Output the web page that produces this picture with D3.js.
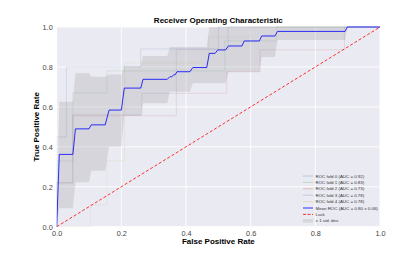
<!DOCTYPE html>
<html>
<head>
<meta charset="utf-8">
<script src="https://cdn.jsdelivr.net/npm/d3@7"></script>
<style>
  body { margin: 0; background: #fff; }
  text { font-family: "Liberation Sans", Arial, sans-serif; }
</style>
</head>
<body>
<svg width="400" height="267"></svg>
<script>
// fold curves (fpr, tpr)
var fold0 = [[0,0],[0,0.45],[0.03,0.45],[0.03,0.8],[0.26,0.8],[0.26,0.89],[0.5,0.89],[0.5,1],[1,1]];
var fold1 = [[0,0],[0,0.33],[0.05,0.33],[0.05,0.67],[0.155,0.67],[0.155,0.78],[0.52,0.78],[0.52,0.93],[0.68,0.93],[0.68,1],[1,1]];
var fold2 = [[0,0],[0,0.22],[0.05,0.22],[0.05,0.556],[0.37,0.556],[0.37,0.668],[0.526,0.668],[0.526,0.776],[0.629,0.776],[0.629,0.886],[0.89,0.886],[0.89,1],[1,1]];
var fold3 = [[0,0],[0,0.22],[0.05,0.22],[0.05,0.56],[0.263,0.56],[0.263,0.668],[0.37,0.668],[0.37,0.888],[0.53,0.888],[0.53,1],[1,1]];
var fold4 = [[0,0],[0.105,0],[0.105,0.11],[0.155,0.11],[0.155,0.33],[0.21,0.33],[0.21,0.82],[0.47,0.82],[0.47,0.95],[0.6,0.95],[0.6,1],[1,1]];
var foldAuc = [0.92, 0.83, 0.73, 0.78, 0.78];

var meanRoc = [[0,0],[0.008,0.362],[0.05,0.362],[0.058,0.49],[0.10,0.49],[0.107,0.51],[0.15,0.51],
  [0.162,0.584],[0.20,0.584],[0.209,0.694],[0.26,0.694],[0.267,0.738],[0.342,0.738],[0.35,0.751],
  [0.356,0.751],[0.362,0.76],[0.366,0.76],[0.372,0.776],[0.412,0.776],[0.421,0.797],[0.464,0.797],
  [0.472,0.868],[0.49,0.868],[0.498,0.885],[0.522,0.885],[0.531,0.905],[0.573,0.905],[0.58,0.93],
  [0.627,0.93],[0.634,0.955],[0.675,0.955],[0.683,0.978],[0.892,0.978],[0.899,1],[1,1]];

var stdUpper = [[0,0],[0.008,0.626],[0.05,0.626],[0.058,0.768],[0.10,0.768],[0.107,0.751],[0.15,0.751],
  [0.162,0.762],[0.20,0.762],[0.209,0.805],[0.26,0.805],[0.267,0.855],[0.342,0.855],[0.35,0.90],
  [0.464,0.90],[0.472,1],[1,1]];
var stdLower = [[0,0],[0.008,0.092],[0.05,0.092],[0.058,0.222],[0.10,0.222],[0.107,0.28],[0.15,0.28],
  [0.162,0.40],[0.20,0.40],[0.209,0.555],[0.26,0.555],[0.267,0.618],[0.342,0.618],[0.35,0.676],
  [0.412,0.676],[0.421,0.718],[0.522,0.718],[0.531,0.776],[0.627,0.776],[0.634,0.85],[0.675,0.85],
  [0.683,0.935],[0.892,0.935],[0.899,1],[1,1]];

var ticks = [0, 0.2, 0.4, 0.6, 0.8, 1.0];
var foldColors = ["#4C72B0", "#55A868", "#C44E52", "#8172B2", "#CCB974"];

function main() {
  var svg = d3.select("svg");
  var pLeft = 56.7, pRight = 380, pTop = 27, pBottom = 226.7;

  var x = d3.scaleLinear().domain([0, 1]).range([pLeft, pRight]);
  var y = d3.scaleLinear().domain([0, 1]).range([pBottom, pTop]);

  svg.append("rect")
    .attr("x", pLeft).attr("y", pTop)
    .attr("width", pRight - pLeft).attr("height", pBottom - pTop)
    .attr("fill", "#EAEAF2");

  // grid
  svg.append("g").selectAll("line").data(ticks).enter().append("line")
    .attr("x1", function(d) { return x(d); }).attr("x2", function(d) { return x(d); })
    .attr("y1", pTop).attr("y2", pBottom)
    .attr("stroke", "#fff").attr("stroke-width", 0.9);
  svg.append("g").selectAll("line").data(ticks).enter().append("line")
    .attr("y1", function(d) { return y(d); }).attr("y2", function(d) { return y(d); })
    .attr("x1", pLeft).attr("x2", pRight)
    .attr("stroke", "#fff").attr("stroke-width", 0.9);

  var line = d3.line().x(function(d) { return x(d[0]); }).y(function(d) { return y(d[1]); });

  svg.append("clipPath").attr("id", "clip").append("rect")
    .attr("x", pLeft).attr("y", pTop - 1).attr("width", pRight - pLeft).attr("height", pBottom - pTop + 2);
  var plot = svg.append("g").attr("clip-path", "url(#clip)");

  [fold0, fold1, fold2, fold3, fold4].forEach(function(f, i) {
    plot.append("path").attr("d", line(f))
      .attr("fill", "none").attr("stroke", foldColors[i])
      .attr("stroke-opacity", 0.25).attr("stroke-width", 0.6);
  });

  // std band between upper and lower outlines
  var band = stdUpper.concat(stdLower.slice().reverse());
  plot.append("path").attr("d", line(band) + "Z")
    .attr("fill", "#808080").attr("fill-opacity", 0.2).attr("stroke", "none");

  plot.append("path").attr("d", line([[0, 0], [1, 1]]))
    .attr("fill", "none").attr("stroke", "red").attr("stroke-opacity", 0.8)
    .attr("stroke-width", 1).attr("stroke-dasharray", "3,2");

  plot.append("path").attr("d", line(meanRoc))
    .attr("fill", "none").attr("stroke", "blue").attr("stroke-opacity", 0.8)
    .attr("stroke-width", 1);

  // axes
  var xAxis = d3.axisBottom(x).tickValues(ticks).tickSize(0).tickPadding(4).tickFormat(d3.format(".1f"));
  var yAxis = d3.axisLeft(y).tickValues(ticks).tickSize(0).tickPadding(4).tickFormat(d3.format(".1f"));
  var gx = svg.append("g").attr("transform", "translate(0," + pBottom + ")").call(xAxis);
  var gy = svg.append("g").attr("transform", "translate(" + pLeft + ",0)").call(yAxis);
  [gx, gy].forEach(function(g) {
    g.select(".domain").remove();
    g.selectAll("text").attr("font-size", 7.3).attr("fill", "#444")
      .style("font-family", "'Liberation Sans', Arial, sans-serif");
  });

  svg.append("text").attr("x", (pLeft + pRight) / 2).attr("y", 23)
    .attr("text-anchor", "middle").attr("font-size", 8).attr("font-weight", "bold")
    .text("Receiver Operating Characteristic");
  svg.append("text").attr("x", (pLeft + pRight) / 2).attr("y", 244)
    .attr("text-anchor", "middle").attr("font-size", 8).attr("font-weight", "bold")
    .text("False Positive Rate");
  svg.append("text")
    .attr("transform", "translate(39," + (pTop + pBottom) / 2 + ") rotate(-90)")
    .attr("text-anchor", "middle").attr("font-size", 8).attr("font-weight", "bold")
    .text("True Positive Rate");

  // legend
  var legendItems = foldAuc.map(function(a, i) {
    return { label: "ROC fold " + i + " (AUC = " + a.toFixed(2) + ")", type: "line", color: foldColors[i], op: 0.3 };
  });
  legendItems.push({ label: "Mean ROC (AUC = 0.80 \u00b1 0.06)", type: "line", color: "blue", op: 0.8 });
  legendItems.push({ label: "Luck", type: "dash", color: "red", op: 0.8 });
  legendItems.push({ label: "\u00b1 1 std. dev.", type: "rect", color: "#808080", op: 0.2 });

  var lg = svg.append("g").attr("transform", "translate(303,176)");
  var item = lg.selectAll("g").data(legendItems).enter().append("g")
    .attr("transform", function(d, i) { return "translate(0," + i * 6.4 + ")"; });
  item.each(function(d) {
    var g = d3.select(this);
    if (d.type === "rect") {
      g.append("rect").attr("x", 0).attr("y", -1.8).attr("width", 10).attr("height", 3.6)
        .attr("fill", d.color).attr("fill-opacity", d.op);
    } else {
      g.append("line").attr("x1", 0).attr("x2", 10).attr("y1", 0).attr("y2", 0)
        .attr("stroke", d.color).attr("stroke-opacity", d.op).attr("stroke-width", 1)
        .attr("stroke-dasharray", d.type === "dash" ? "3,1.5" : null);
    }
    g.append("text").attr("x", 12.5).attr("y", 1.6).attr("font-size", 4.4).attr("fill", "#333")
      .text(d.label);
  });
}

main();
</script>
</body>
</html>
